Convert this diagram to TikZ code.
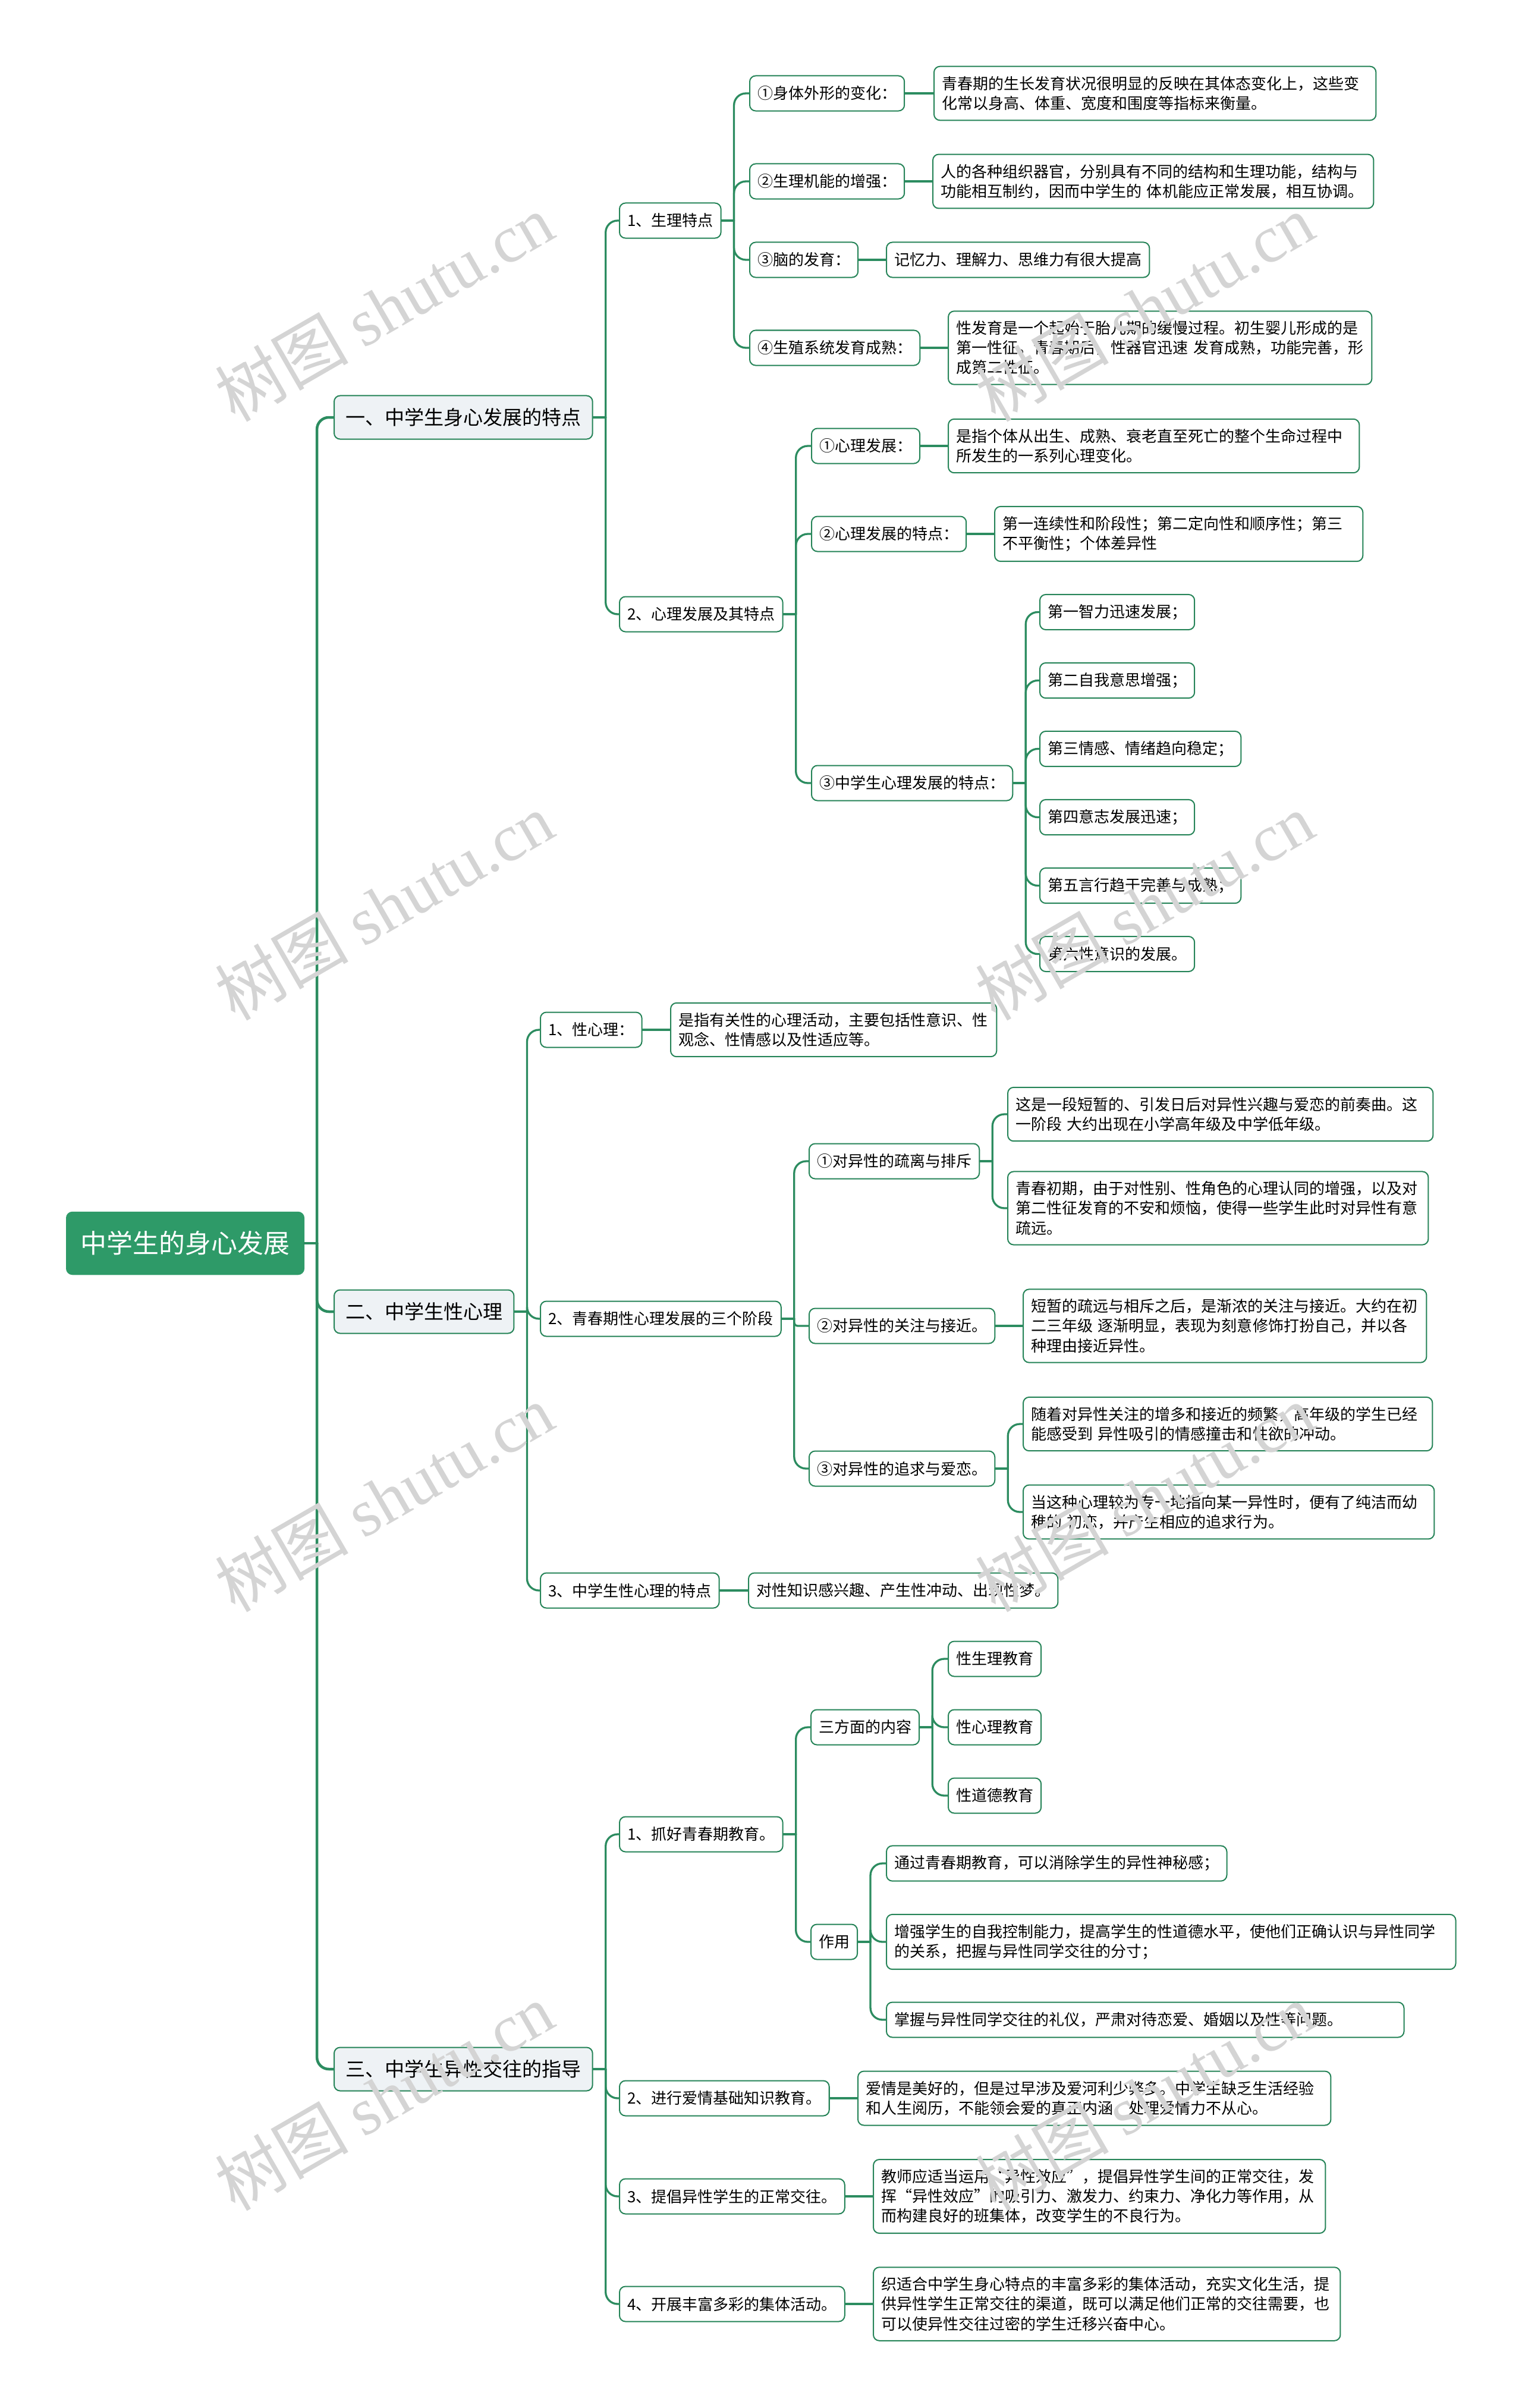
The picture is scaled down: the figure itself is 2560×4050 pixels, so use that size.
\documentclass[tikz,border=0pt]{standalone}
\usepackage{fontspec}
\setmainfont{Noto Sans CJK SC}
\newfontfamily\wmfont{Liberation Serif}
\definecolor{rootgreen}{RGB}{46,154,104}
\definecolor{boxgreen}{RGB}{38,132,88}
\definecolor{linkgreen}{RGB}{44,140,96}
\definecolor{topicfill}{RGB}{238,242,245}
\tikzset{
    hub/.style={fill=rootgreen, draw=rootgreen, text=white, rounded corners=0.1cm,
        font=\fontsize{12.5pt}{15pt}\selectfont, inner xsep=0.24cm, minimum height=1.05cm, anchor=west},
    topic/.style={fill=topicfill, draw=boxgreen, line width=0.02cm, rounded corners=0.1cm,
        font=\fontsize{9.4pt}{11pt}\selectfont, inner xsep=0.19cm, minimum height=0.73cm, anchor=west},
    item/.style={fill=white, draw=boxgreen, line width=0.02cm, rounded corners=0.1cm,
        font=\fontsize{7.4pt}{9.4pt}\selectfont, inner xsep=0.13cm, inner ysep=0.165cm,
        minimum height=0.59cm, anchor=west},
    note/.style={item, text width=#1, align=left},
    link/.style={draw=linkgreen, line width=0.033cm, line cap=round},
    trunk/.style={link, line width=0.045cm},
    elbow/.style={rounded corners=0.2cm},
    stamp/.style={text=black!17, rotate=30, font=\fontsize{32pt}{32pt}\selectfont},
}
\begin{document}
\begin{tikzpicture}[x=0.01cm, y=-0.01cm]
    \fill[white] (0,0) rectangle (2560,4050);
    \useasboundingbox (0,0) rectangle (2560,4050);

    % root and the three topics
    \node[hub] (hub) at (111,2091) {中学生的身心发展};
    \node[topic] (ta) at (561,702) {一、中学生身心发展的特点};
    \node[topic] (tb) at (561,2206) {二、中学生性心理};
    \node[topic] (tc) at (561,3480) {三、中学生异性交往的指导};

    % part one
    \node[item] (a1) at (1041,371) {1、生理特点};
    \node[item] (a2) at (1041,1033) {2、心理发展及其特点};
    \node[item] (a11) at (1260,157) {①身体外形的变化：};
    \node[item] (a12) at (1260,305) {②生理机能的增强：};
    \node[item] (a13) at (1260,437) {③脑的发育：};
    \node[item] (a14) at (1260,585) {④生殖系统发育成熟：};
    \node[note=7.17cm] (n11) at (1570,157) {青春期的生长发育状况很明显的反映在其体态变化上，这些变\\化常以身高、体重、宽度和围度等指标来衡量。};
    \node[note=7.15cm] (n12) at (1568,305) {人的各种组织器官，分别具有不同的结构和生理功能，结构与\\功能相互制约，因而中学生的~体机能应正常发展，相互协调。};
    \node[item] (n13) at (1490,437) {记忆力、理解力、思维力有很大提高};
    \node[note=6.86cm] (n14) at (1594,585) {性发育是一个起始于胎儿期的缓慢过程。初生婴儿形成的是\\第一性征。青春期后，性器官迅速~发育成熟，功能完善，形\\成第二性征。};
    \node[item] (a21) at (1364,750) {①心理发展：};
    \node[item] (a22) at (1364,898) {②心理发展的特点：};
    \node[item] (a23) at (1364,1317) {③中学生心理发展的特点：};
    \node[note=6.65cm] (n21) at (1594,750) {是指个体从出生、成熟、衰老直至死亡的整个生命过程中\\所发生的一系列心理变化。};
    \node[note=5.93cm] (n22) at (1672,898) {第一连续性和阶段性；第二定向性和顺序性；第三\\不平衡性；个体差异性};
    \foreach \i/\t in {1/第一智力迅速发展；, 2/第二自我意思增强；, 3/第三情感、情绪趋向稳定；,
                       4/第四意志发展迅速；, 5/第五言行趋于完善与成熟；, 6/第六性意识的发展。}
        \node[item] (f\i) at (1748,{1029.5+115*(\i-1)}) {\t};

    % part two
    \node[item] (b1) at (908,1732) {1、性心理：};
    \node[note=5.22cm] (nb1) at (1127,1732) {是指有关性的心理活动，主要包括性意识、性\\观念、性情感以及性适应等。};
    \node[item] (b2) at (908,2218) {2、青春期性心理发展的三个阶段};
    \node[item] (b21) at (1360,1953) {①对异性的疏离与排斥};
    \node[item] (b22) at (1360,2230) {②对异性的关注与接近。};
    \node[item] (b23) at (1360,2470) {③对异性的追求与爱恋。};
    \node[note=6.89cm] (n211) at (1694,1874) {这是一段短暂的、引发日后对异性兴趣与爱恋的前奏曲。这\\一阶段~大约出现在小学高年级及中学低年级。};
    \node[note=6.81cm] (n212) at (1694,2032) {青春初期，由于对性别、性角色的心理认同的增强，以及对\\第二性征发育的不安和烦恼，使得一些学生此时对异性有意\\疏远。};
    \node[note=6.52cm] (nb22) at (1720,2230) {短暂的疏远与相斥之后，是渐浓的关注与接近。大约在初\\二三年级~逐渐明显，表现为刻意修饰打扮自己，并以各\\种理由接近异性。};
    \node[note=6.62cm] (n231) at (1720,2395) {随着对异性关注的增多和接近的频繁，高年级的学生已经\\能感受到~异性吸引的情感撞击和性欲的冲动。};
    \node[note=6.65cm] (n232) at (1720,2543) {当这种心理较为专一地指向某一异性时，便有了纯洁而幼\\稚的~初恋，并产生相应的追求行为。};
    \node[item] (b3) at (908,2675) {3、中学生性心理的特点};
    \node[item] (nb3) at (1258,2675) {对性知识感兴趣、产生性冲动、出现性梦。};

    % part three
    \node[item] (c1) at (1041,3085) {1、抓好青春期教育。};
    \node[item] (c11) at (1363,2905) {三方面的内容};
    \node[item] (c12) at (1363,3266) {作用};
    \foreach \i/\y/\t in {1/2790/性生理教育, 2/2905/性心理教育, 3/3020/性道德教育}
        \node[item] (e\i) at (1594,\y) {\t};
    \node[item] (u1) at (1490,3134) {通过青春期教育，可以消除学生的异性神秘感；};
    \node[note=9.31cm] (u2) at (1490,3266) {增强学生的自我控制能力，提高学生的性道德水平，使他们正确认识与异性同学\\的关系，把握与异性同学交往的分寸；};
    \node[note=8.44cm] (u3) at (1490,3397) {掌握与异性同学交往的礼仪，严肃对待恋爱、婚姻以及性等问题。};
    \node[item] (c2) at (1041,3529) {2、进行爱情基础知识教育。};
    \node[note=7.69cm] (nc2) at (1442,3529) {爱情是美好的，但是过早涉及爱河利少弊多。中学生缺乏生活经验\\和人生阅历，不能领会爱的真正内涵，处理爱情力不从心。};
    \node[item] (c3) at (1041,3694) {3、提倡异性学生的正常交往。};
    \node[note=7.34cm] (nc3) at (1468,3694) {教师应适当运用“异性效应”，提倡异性学生间的正常交往，发\\挥“异性效应”的吸引力、激发力、约束力、净化力等作用，从\\而构建良好的班集体，改变学生的不良行为。};
    \node[item] (c4) at (1041,3875) {4、开展丰富多彩的集体活动。};
    \node[note=7.59cm] (nc4) at (1468,3875) {织适合中学生身心特点的丰富多彩的集体活动，充实文化生活，提\\供异性学生正常交往的渠道，既可以满足他们正常的交往需要，也\\可以使异性交往过密的学生迁移兴奋中心。};

    % branches
    \draw[trunk] (hub.east) -- ++(21,0);
    \foreach \c in {ta,tb,tc}
        \draw[trunk, elbow] (hub.east) ++(21,0) |- (\c.west);
    \foreach \p/\cs in {ta/{a1,a2}, a1/{a11,a12,a13,a14}, a2/{a21,a22,a23},
                        a23/{f1,f2,f3,f4,f5,f6}, tb/{b1,b2,b3}, b2/{b21,b23},
                        b21/{n211,n212}, b23/{n231,n232}, tc/{c1,c2,c3,c4},
                        c1/{c11,c12}, c11/{e1,e2,e3}, c12/{u1,u2,u3}} {
        \draw[link] (\p.east) -- ++(21,0);
        \foreach \c in \cs
            \draw[link, elbow] (\p.east) ++(21,0) |- (\c.west);
    }
    \draw[link, rounded corners=0.06cm] (b2.east) ++(21,0) |- (b22.west);
    \foreach \p/\c in {a11/n11, a12/n12, a13/n13, a14/n14, a21/n21, a22/n22,
                       b1/nb1, b22/nb22, b3/nb3, c2/nc2, c3/nc3, c4/nc4}
        \draw[link] (\p.east) -- (\c.west);

    % watermark
    \foreach \x in {646,1925}
        \foreach \y in {517,1524,2519,3526}
            \node[stamp] (wm\x-\y) at (\x,\y) {树图 {\wmfont shutu.cn}};
\end{tikzpicture}
\end{document}
